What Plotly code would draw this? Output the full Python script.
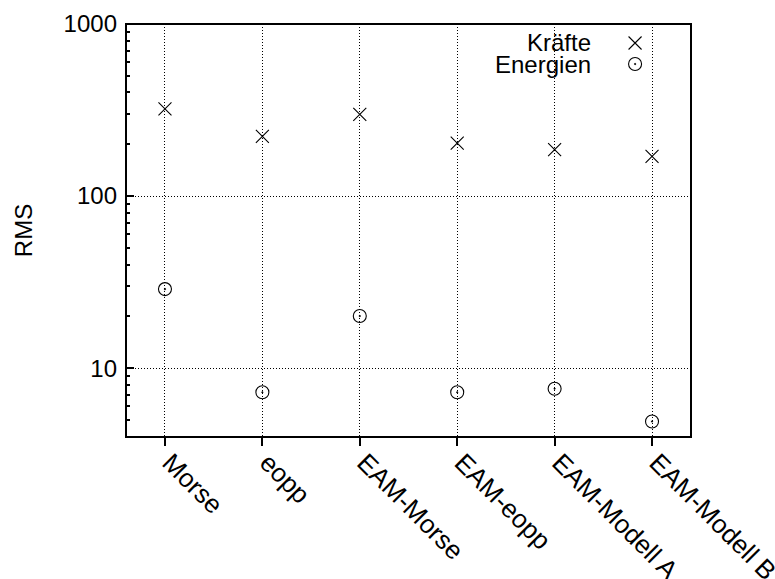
import plotly.graph_objects as go

categories = ["Morse", "eopp", "EAM-Morse", "EAM-eopp", "EAM-Modell A", "EAM-Modell B"]
kraefte = [321, 222, 298, 203, 186, 170]
energien = [28.8, 7.25, 20.1, 7.25, 7.6, 4.9]
ytick_vals = [10, 100, 1000]
ytick_text = ["10", "100", "1000"]
minor_vals = [4, 5, 6, 7, 8, 9, 20, 30, 40, 50, 60, 70, 80, 90,
              200, 300, 400, 500, 600, 700, 800, 900]
legend_names = ["Kräfte", "Energien"]

FONT = "Liberation Sans"
BLACK = "#000000"

fig = go.Figure()
fig.add_trace(go.Scatter(
    x=categories, y=kraefte, mode="markers", name=legend_names[0],
    marker=dict(symbol="x-thin", size=13, color=BLACK, line=dict(color=BLACK, width=1.1)),
    showlegend=False))
fig.add_trace(go.Scatter(
    x=categories, y=energien, mode="markers", name=legend_names[1],
    marker=dict(symbol="circle-open-dot", size=13, color=BLACK, line=dict(color=BLACK, width=1.1)),
    showlegend=False))

# legend key markers on an overlay axis (0..1)
leg_x = [0.901, 0.901]
leg_y = [0.954, 0.903]
fig.add_trace(go.Scatter(
    x=[leg_x[0]], y=[leg_y[0]], xaxis="x2", yaxis="y2", mode="markers",
    marker=dict(symbol="x-thin", size=13, color=BLACK, line=dict(color=BLACK, width=1.1)),
    showlegend=False, hoverinfo="skip"))
fig.add_trace(go.Scatter(
    x=[leg_x[1]], y=[leg_y[1]], xaxis="x2", yaxis="y2", mode="markers",
    marker=dict(symbol="circle-open-dot", size=13, color=BLACK, line=dict(color=BLACK, width=1.1)),
    showlegend=False, hoverinfo="skip"))

for name, yy in zip(legend_names, leg_y):
    fig.add_annotation(x=0.827, y=yy, xref="paper", yref="paper", text=name,
                       showarrow=False, xanchor="right", yanchor="middle",
                       font=dict(family=FONT, size=24, color=BLACK))

fig.update_layout(
    width=775, height=579,
    margin=dict(l=126, r=84, t=24, b=142),
    paper_bgcolor="white", plot_bgcolor="white",
    font=dict(family=FONT, size=24, color=BLACK),
    xaxis=dict(
        type="category", range=[-0.4, 5.4], automargin=False,
        showgrid=True, gridcolor=BLACK, gridwidth=1, griddash="1px,2px",
        ticks="outside", ticklen=8, tickwidth=1.5, tickcolor=BLACK,
        tickangle=45, showline=False, zeroline=False,
        ticklabelstandoff=-9, ticklabelshift=5,
        tickfont=dict(family=FONT, size=26, color=BLACK)),
    yaxis=dict(
        type="log", range=[0.6, 3], automargin=False,
        tickmode="array", tickvals=ytick_vals, ticktext=ytick_text,
        showgrid=True, gridcolor=BLACK, gridwidth=1, griddash="1px,2px",
        ticks="inside", ticklen=8, tickwidth=1.5, tickcolor=BLACK,
        mirror=True, showline=False, zeroline=False,
        ticklabelstandoff=8,
        minor=dict(tickmode="array", tickvals=minor_vals, ticks="inside",
                   ticklen=4, tickwidth=1.5, tickcolor=BLACK, showgrid=False),
        title=dict(text="RMS", standoff=24, font=dict(family=FONT, size=24, color=BLACK)),
        tickfont=dict(family=FONT, size=24, color=BLACK)),
    xaxis2=dict(overlaying="x", range=[0, 1], visible=False, fixedrange=True),
    yaxis2=dict(overlaying="y", range=[0, 1], visible=False, fixedrange=True),
    shapes=[
        dict(type="rect", xref="paper", yref="paper", x0=0.644, x1=0.949, y0=0.874, y1=0.988,
             fillcolor="white", line=dict(width=0), layer="between"),
        dict(type="rect", xref="paper", yref="paper", x0=0, x1=1, y0=0, y1=1,
             line=dict(color=BLACK, width=2), layer="above"),
    ],
)

fig.write_html("out.html")
